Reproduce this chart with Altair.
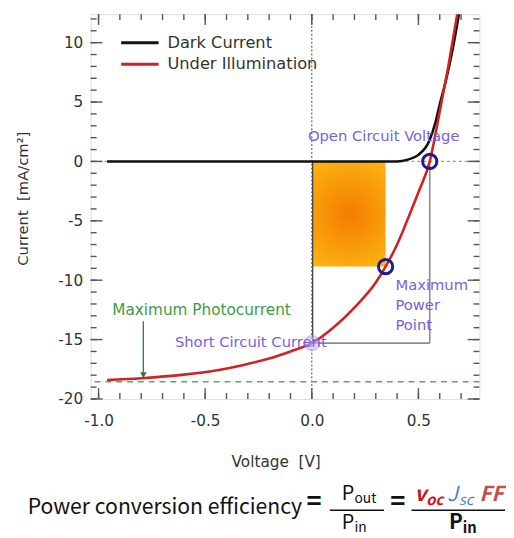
import altair as alt
import pandas as pd

# ---- data ----
dark_v = [-0.96, -0.6, -0.2, 0.2, 0.40, 0.45, 0.50, 0.55, 0.58, 0.60, 0.63, 0.66, 0.69]
dark_j = [0.0, 0.0, 0.0, 0.0, 0.0, 0.15, 0.55, 1.7, 3.3, 4.8, 6.9, 9.4, 12.4]
light_v = [-0.96, -0.8, -0.6, -0.45, -0.3, -0.2, -0.1, 0.0, 0.1, 0.2, 0.3, 0.346, 0.4, 0.46, 0.5, 0.553, 0.6, 0.64, 0.682]
light_j = [-18.4, -18.25, -17.95, -17.6, -17.05, -16.6, -16.0, -15.3, -14.0, -12.3, -10.2, -8.85, -7.0, -4.4, -2.6, 0.0, 4.2, 8.0, 12.4]

voc = 0.553
jsc = -15.3
vmp = 0.346
jmp = -8.85
jph = -18.55
arrow_v = -0.79
arrow_top = -13.45
arrow_tip = -18.0

x_major = [-1.0, -0.5, 0.0, 0.5]
x_minor = [-1.0, -0.9, -0.8, -0.7, -0.6, -0.5, -0.4, -0.3, -0.2, -0.1, 0.0, 0.1, 0.2, 0.3, 0.4, 0.5, 0.6, 0.7]
y_major = [-20, -15, -10, -5, 0, 5, 10]
y_minor = [-20, -19, -18, -17, -16, -15, -14, -13, -12, -11, -10, -9, -8, -7, -6, -5, -4, -3, -2, -1,
           0, 1, 2, 3, 4, 5, 6, 7, 8, 9, 10, 11, 12]

W, H = 395, 391
FONT = "DejaVu Sans"
PURPLE = "#7a5fe0"
NAVY = "#1f1a8f"
GREEN = "#3e9b45"
NB = "\u00a0"

xs = alt.Scale(domain=[-1.037, 0.786], nice=False, zero=False)
ys = alt.Scale(domain=[-20, 12.4], nice=False, zero=False)

MINUS_FIX = "replace(datum.label, '\u2212', '-')"

xaxis = alt.Axis(values=x_major, format=".1f", labelExpr=MINUS_FIX, ticks=False, domain=False, grid=False,
                 labelFontSize=15.5, labelColor="#333", labelFont=FONT, labelPadding=15,
                 title="Voltage" + NB + NB + "[V]", titleFont=FONT, titleFontSize=15.5, titleFontWeight="normal",
                 titleColor="#333", titlePadding=26, titleX=188)
yaxis = alt.Axis(values=y_major, labelExpr=MINUS_FIX, ticks=False, domain=False, grid=False,
                 labelFontSize=15.5, labelColor="#333", labelFont=FONT, labelPadding=8,
                 title="Current" + NB + NB + "[mA/cm²]", titleFont=FONT, titleFontSize=15, titleFontWeight="normal",
                 titleColor="#333", titlePadding=28, titleY=187)

curves = pd.DataFrame({
    "v": dark_v + light_v,
    "j": dark_j + light_j,
    "s": ["Dark Current"] * len(dark_v) + ["Under Illumination"] * len(light_v),
})

base_df = pd.DataFrame({"v": [vmp], "j": [jmp]})

# orange power rectangle
rect = alt.Chart(pd.DataFrame({"v1": [0.004], "v2": [vmp], "j1": [0.0], "j2": [jmp]})).mark_rect(
    fill={"gradient": "radial", "x1": 0.5, "y1": 0.5, "r1": 0.0, "x2": 0.5, "y2": 0.5, "r2": 0.75,
          "stops": [{"offset": 0, "color": "#f47c00"}, {"offset": 1, "color": "#ffc417"}]}
).encode(x=alt.X("v1:Q", scale=xs, axis=xaxis), x2="v2:Q",
         y=alt.Y("j1:Q", scale=ys, axis=yaxis), y2="j2:Q")

# dashed reference lines
vzero = alt.Chart(base_df).mark_rule(color="#444", strokeDash=[2, 2], strokeWidth=1).encode(x=alt.datum(0.0))
hzero = alt.Chart(base_df).mark_rule(color="#999", strokeDash=[3, 3], strokeWidth=1.2).encode(y=alt.datum(0.0))
green_dash = alt.Chart(base_df).mark_rule(color="#5aaa5a", strokeDash=[6, 5], strokeWidth=1.5).encode(y=alt.datum(jph))

# Voc x Jsc box
box_df = pd.DataFrame({"v1": [voc, 0.004], "v2": [voc, voc], "j1": [0.0, jsc], "j2": [jsc, jsc]})
box = alt.Chart(box_df).mark_rule(color="#8c8c8c", strokeWidth=1.6).encode(
    x="v1:Q", x2="v2:Q", y="j1:Q", y2="j2:Q")
left_edge = alt.Chart(base_df).mark_rule(color="#444", strokeWidth=1.3).encode(
    x=alt.datum(0.004), y=alt.datum(0.0), y2=alt.datum(jsc))

lines = alt.Chart(curves).mark_line(strokeWidth=2.6, clip=True, interpolate="monotone").encode(
    x="v:Q", y="j:Q",
    color=alt.Color("s:N", scale=alt.Scale(domain=["Dark Current", "Under Illumination"],
                                           range=["#111111", "#d02222"]), legend=None),
    order=alt.Order("v:Q"))

# circles
pts = pd.DataFrame({"v": [voc, vmp], "j": [0.0, jmp]})
circles = alt.Chart(pts).mark_point(shape="circle", filled=False, size=210, strokeWidth=3, color=NAVY, opacity=1).encode(
    x="v:Q", y="j:Q")
isc = alt.Chart(pd.DataFrame({"v": [0.0], "j": [jsc]})).mark_point(
    shape="circle", filled=True, size=210, color="#c9c1fb", opacity=0.55, stroke="#9d8ff2",
    strokeWidth=2, strokeOpacity=0.9).encode(x="v:Q", y="j:Q")

# green arrow
arrow = alt.Chart(base_df).mark_rule(color="#2e7d32", strokeWidth=1.3).encode(
    x=alt.datum(arrow_v), y=alt.datum(arrow_top), y2=alt.datum(arrow_tip))
head = alt.Chart(base_df).mark_point(shape="triangle-down", filled=True, size=45, color="#2e7d32", opacity=1).encode(
    x=alt.datum(arrow_v), y=alt.datum(arrow_tip))


def dtext(txt, v, j, color, size=14, align="center"):
    return alt.Chart(pd.DataFrame({"t": [txt]})).mark_text(
        font=FONT, fontSize=size, color=color, align=align, baseline="middle").encode(
        x=alt.datum(v), y=alt.datum(j), text="t:N")


annots = [
    dtext("Open Circuit Voltage", 0.337, 2.1, PURPLE, 15),
    dtext("Maximum", 0.392, -10.45, PURPLE, 15, "left"),
    dtext("Power", 0.392, -12.1, PURPLE, 15, "left"),
    dtext("Point", 0.392, -13.75, PURPLE, 15, "left"),
    dtext("Short Circuit Current", -0.286, -15.2, PURPLE, 15),
    dtext("Maximum Photocurrent", -0.517, -12.55, GREEN, 15.5),
]


def ptext(txt, x, y, size=15, color="#333", align="left", font=FONT, weight="normal", style="normal"):
    return alt.Chart(pd.DataFrame({"t": [txt]})).mark_text(
        font=font, fontSize=size, color=color, align=align, baseline="middle",
        fontWeight=weight, fontStyle=style).encode(
        x=alt.value(x), y=alt.value(y), text="t:N")


def prule(x1, x2, y1, y2, color, width):
    return alt.Chart(base_df).mark_rule(color=color, strokeWidth=width).encode(
        x=alt.value(x1), x2=alt.value(x2), y=alt.value(y1), y2=alt.value(y2))


legend = [
    prule(31, 69, 29, 29, "#111111", 3),
    prule(31, 69, 51, 51, "#d02222", 3),
    ptext("Dark Current", 78, 29, 16.5),
    ptext("Under Illumination", 78, 51, 16.5),
]

# inward frame ticks
def yticks(vals, length):
    d = pd.DataFrame({"j": vals})
    left = alt.Chart(d).mark_rule(color="#555", strokeWidth=1.4).encode(
        y="j:Q", x=alt.value(0), x2=alt.value(length))
    right = alt.Chart(d).mark_rule(color="#555", strokeWidth=1.4).encode(
        y="j:Q", x=alt.value(W - length), x2=alt.value(W))
    return [left, right]


def xticks(vals, length):
    d = pd.DataFrame({"v": vals})
    bottom = alt.Chart(d).mark_rule(color="#555", strokeWidth=1.4).encode(
        x="v:Q", y=alt.value(H - length), y2=alt.value(H))
    top = alt.Chart(d).mark_rule(color="#555", strokeWidth=1.4).encode(
        x="v:Q", y=alt.value(0), y2=alt.value(length))
    return [bottom, top]


ticks = yticks(y_minor, 6) + yticks(y_major, 12) + xticks(x_minor, 6) + xticks(x_major, 11)

# formula beneath the chart
FF = "Noto Sans CJK KR"
formula = [
    ptext("Power conversion efficiency", -64, 502, 21.5, "#111", font=FF),
    ptext("=", 227, 496, 26, "#111", "center", FF, "bold"),
    ptext("P", 255, 488, 20, "#111", font=FF),
    ptext("out", 268, 493, 14, "#111", font=FF),
    prule(243, 298, 504, 504, "#111", 1.5),
    ptext("P", 255, 517, 20, "#111", font=FF),
    ptext("in", 268, 522, 14, "#111", font=FF),
    ptext("=", 312, 496, 26, "#111", "center", FF, "bold"),
    ptext("v", 329, 489, 21, "#d0101a", font=FF, weight="bold", style="italic"),
    ptext("oc", 341, 494, 15, "#d0101a", font=FF, weight="bold", style="italic"),
    ptext("J", 362, 489, 21, "#4f81cf", font=FF, style="italic"),
    ptext("sc", 374, 494, 15, "#4f81cf", font=FF, style="italic"),
    ptext("FF", 395, 489, 21, "#c0504d", font=FF, weight="bold", style="italic"),
    prule(326, 421, 504, 504, "#111", 1.5),
    ptext("P", 364, 517, 21, "#111", font=FF, weight="bold"),
    ptext("in", 378, 522, 15, "#111", font=FF, weight="bold"),
]

chart = alt.layer(
    rect, vzero, hzero, green_dash, box, left_edge, lines, circles, isc, arrow, head,
    *annots, *legend, *ticks, *formula
).properties(
    width=W, height=H,
    padding={"left": 84, "top": 2, "right": 27, "bottom": 136},
    autosize=alt.AutoSizeParams(type="none"),
).configure_view(stroke="#555", strokeWidth=2).configure(background="white")

chart.save("out.html", embed_options={"renderer": "svg", "actions": False})
